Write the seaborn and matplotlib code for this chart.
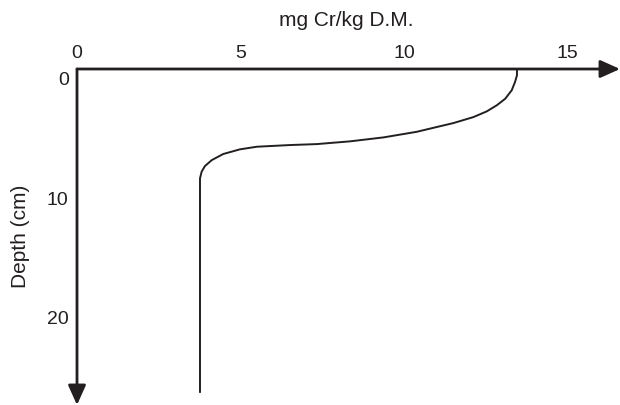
import matplotlib
matplotlib.use("Agg")
import matplotlib.pyplot as plt
import matplotlib.transforms as mtransforms
import seaborn as sns
import pandas as pd

sns.set_theme(style="white")
plt.rcParams['font.family'] = ['Liberation Sans', 'DejaVu Sans']

# Chromium concentration (mg Cr/kg D.M.) vs depth (cm)
concentration = [13.45, 13.45, 13.39, 13.29, 13.09, 12.83, 12.53, 12.12, 11.51,
                 11.00, 10.39, 9.37, 8.35, 7.33, 6.51, 5.50, 4.98, 4.47,
                 4.12, 3.91, 3.81, 3.76, 3.76]
depth = [0.0, 0.53, 1.09, 1.78, 2.49, 3.04, 3.54, 4.02, 4.52,
         4.85, 5.25, 5.72, 6.05, 6.28, 6.36, 6.50, 6.72, 7.11,
         7.62, 8.12, 8.59, 9.15, 27.03]
x_ticks = [0, 5, 10, 15]
y_ticks = [0, 10, 20]
x_title = "mg Cr/kg D.M."
y_title = "Depth (cm)"

df = pd.DataFrame({"conc": concentration, "depth": depth})

ink = "#231f20"
fig = plt.figure(figsize=(6.2, 4.05), dpi=100)
ax = fig.add_axes([77 / 620, 0.0, 1 - 77 / 620, 1 - 69 / 405])

sns.lineplot(data=df, x="conc", y="depth", sort=False, estimator=None,
             color=ink, linewidth=1.4, ax=ax)
ax.lines[0].set_solid_joinstyle("round")

ax.set_xlim(0, 16.6)
ax.set_ylim(28.1, 0)
for s in ax.spines.values():
    s.set_visible(False)

ax.xaxis.tick_top()
ax.set_xticks(x_ticks)
ax.set_xticklabels([str(v) for v in x_ticks])
ax.set_yticks(y_ticks)
ax.set_yticklabels([str(v) for v in y_ticks])
ax.tick_params(axis="x", length=0, pad=5, labelsize=14, colors=ink)
ax.tick_params(axis="y", length=0, pad=6, labelsize=14, colors=ink)
offset = mtransforms.ScaledTranslation(0, -9.5 / 100, fig.dpi_scale_trans)
for lab in ax.get_yticklabels():
    lab.set_transform(lab.get_transform() + offset)
ax.set_xlabel("")
ax.set_ylabel("")
ax.grid(False)

# axes with arrowheads
ax.annotate("", xy=(1.0, 1.0), xytext=(0, 1.0), xycoords="axes fraction",
            arrowprops=dict(arrowstyle="-|>,head_length=1.0,head_width=0.45",
                            color=ink, lw=2, shrinkA=0, shrinkB=0),
            annotation_clip=False)
ax.annotate("", xy=(0, 0.0), xytext=(0, 1.0), xycoords="axes fraction",
            arrowprops=dict(arrowstyle="-|>,head_length=1.0,head_width=0.45",
                            color=ink, lw=2, shrinkA=0, shrinkB=0),
            annotation_clip=False)

fig.text(346 / 620, 1 - 21 / 405, x_title, ha="center", va="center",
         fontsize=15, color=ink)
fig.text(21 / 620, 1 - 236 / 405, y_title, ha="center", va="center",
         rotation=90, fontsize=15, color=ink)

fig.savefig("out.png", dpi=100)
